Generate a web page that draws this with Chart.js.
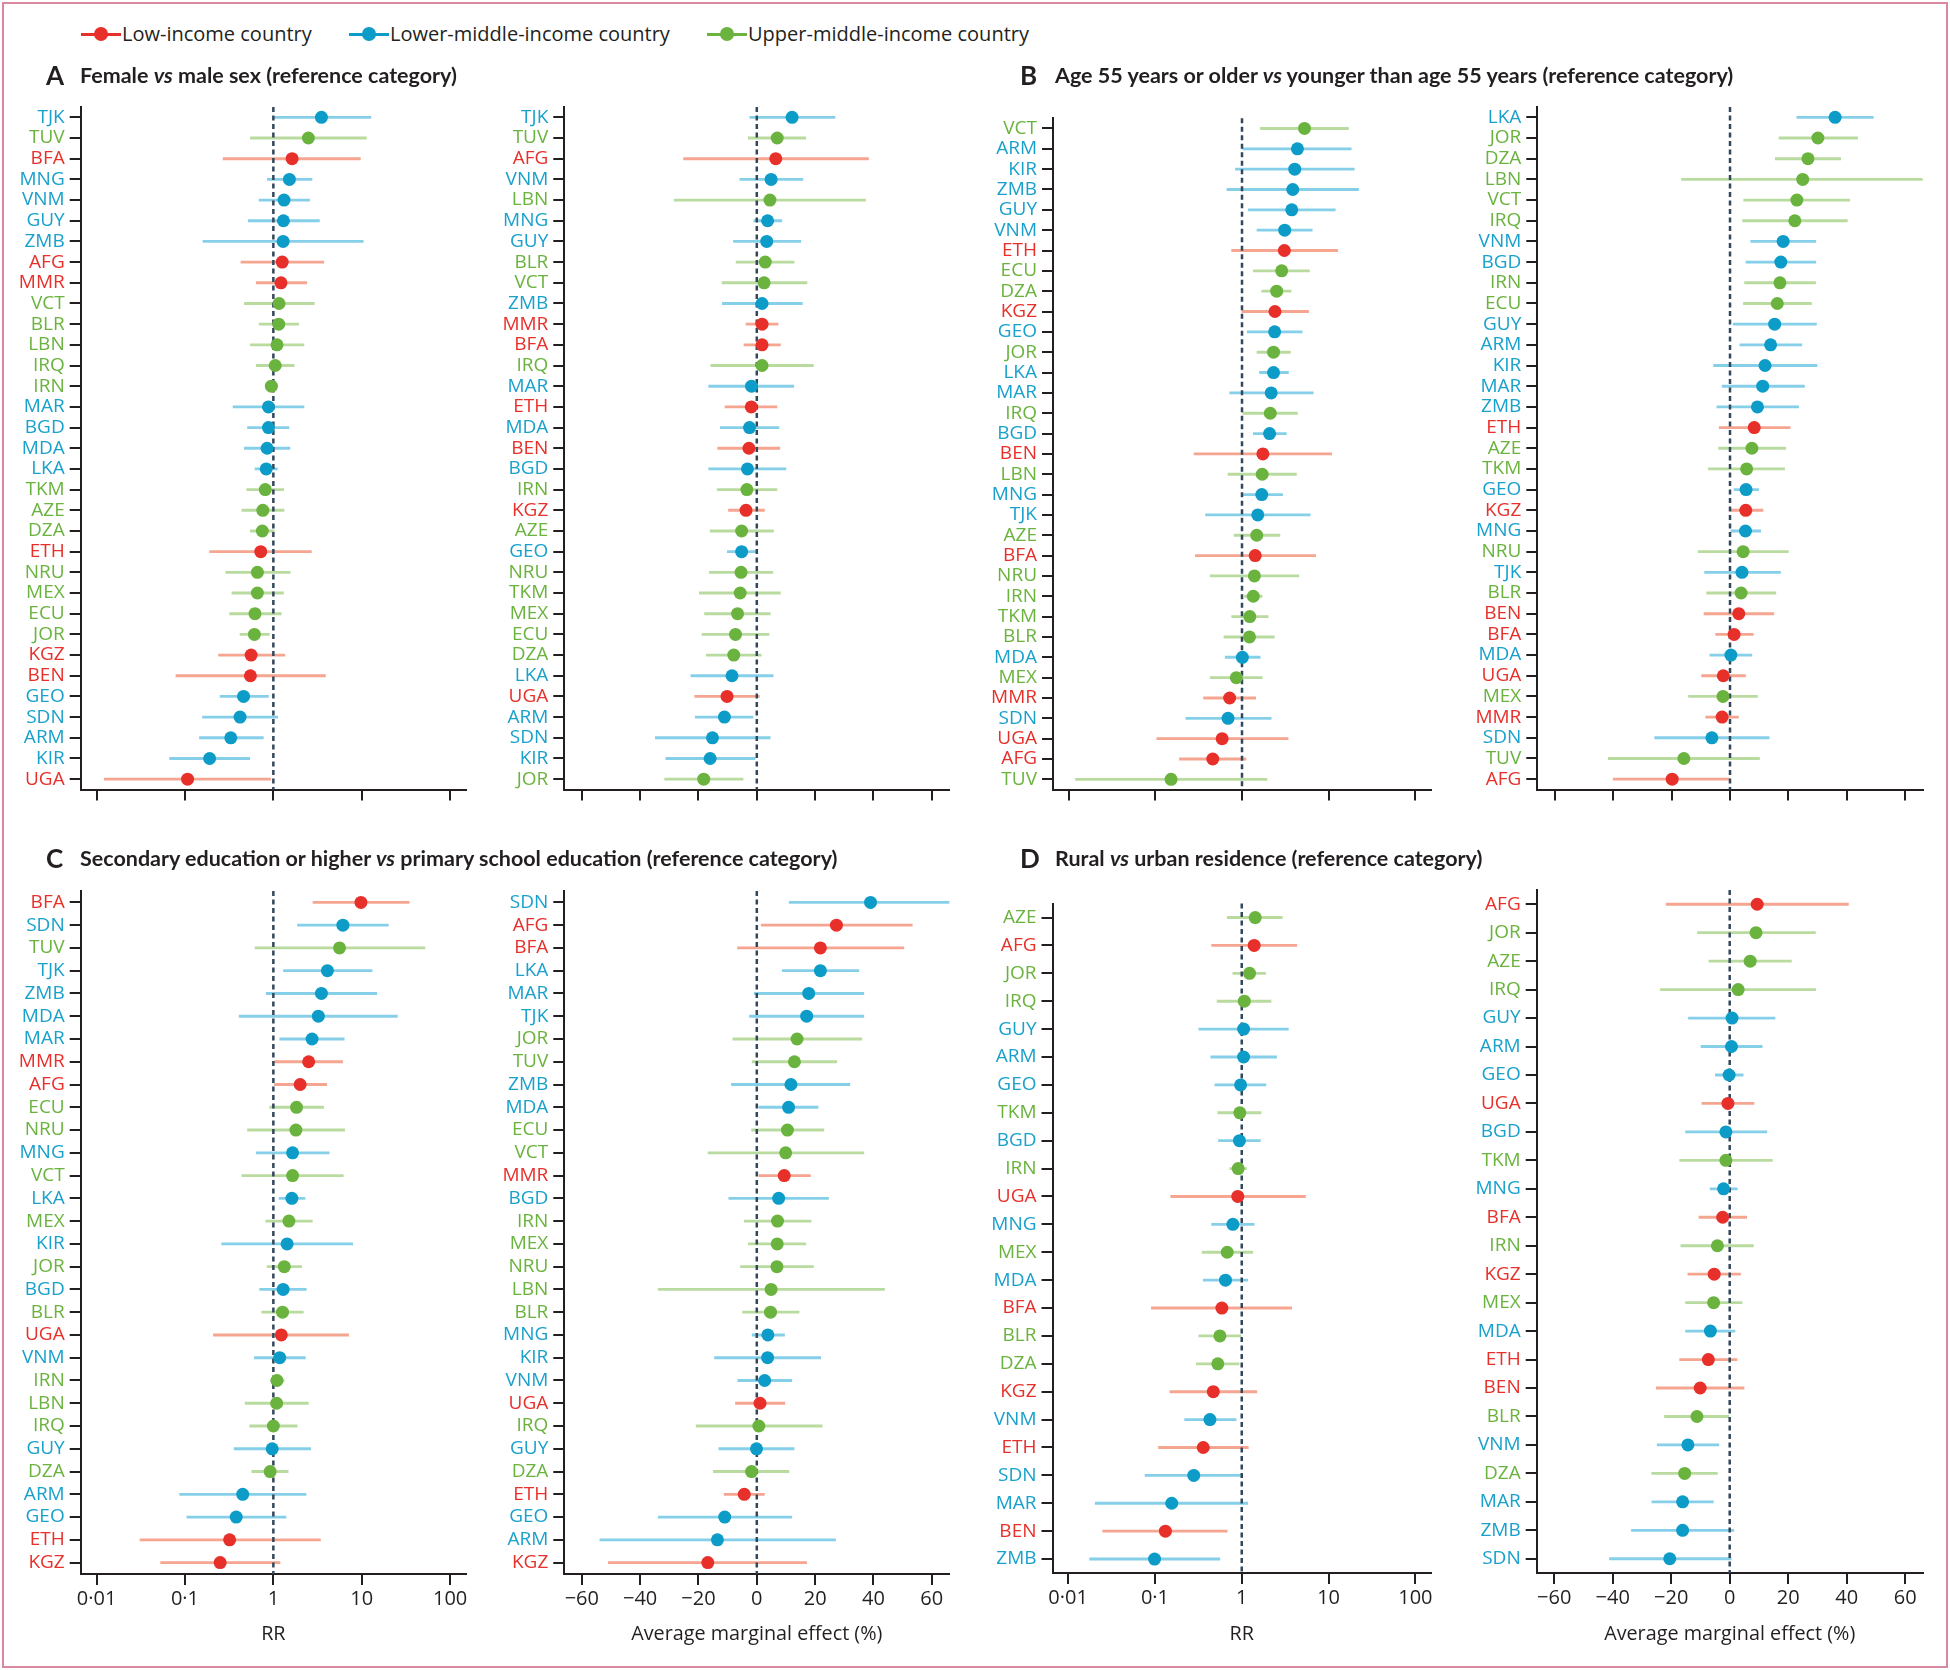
<!DOCTYPE html>
<html><head><meta charset="utf-8">
<script src="https://cdn.jsdelivr.net/npm/chart.js@4.4.0/dist/chart.umd.min.js"></script>
<style>
body{margin:0;width:1950px;height:1670px;background:#fff;position:relative;overflow:hidden;font-family:'Open Sans',sans-serif;color:#231f20}
.frame{position:absolute;left:2px;top:2px;width:1942px;height:1662px;border:2px solid #d8889f}
.title{position:absolute;font-family:Lato,sans-serif;font-weight:700;font-size:21.5px;line-height:26px;white-space:nowrap;color:#231f20}
.letter{position:absolute;font-family:Lato,sans-serif;font-weight:700;font-size:26px;line-height:30px;color:#231f20}
.legtxt{position:absolute;font-family:'Open Sans',sans-serif;font-size:20px;line-height:24px;white-space:nowrap;color:#231f20}
.legline{position:absolute;width:40px;height:3px}
.legdot{position:absolute;width:14px;height:14px;border-radius:50%}
</style>
</head><body>
<div class="frame"></div>
<script>
// ---------- income groups ----------
const lowIncome = ['AFG','BEN','BFA','ETH','KGZ','MMR','UGA'];
const lowerMiddleIncome = ['ARM','BGD','GEO','GUY','KIR','LKA','MAR','MDA','MNG','SDN','TJK','VNM','ZMB'];
const upperMiddleIncome = ['AZE','BLR','DZA','ECU','IRN','IRQ','JOR','LBN','MEX','NRU','TKM','TUV','VCT'];
const legendLabels = ['Low-income country','Lower-middle-income country','Upper-middle-income country'];

// ---------- tick labels ----------
const rrTickValues = [0.01, 0.1, 1, 10, 100];
const rrTickLabels = ['0·01', '0·1', '1', '10', '100'];
const ameTickValues = [-60, -40, -20, 0, 20, 40, 60];
const ameTickLabels = ['−60', '−40', '−20', '0', '20', '40', '60'];

// ---------- A: female vs male ----------
const femaleRRCountries = ['TJK','TUV','BFA','MNG','VNM','GUY','ZMB','AFG','MMR','VCT','BLR','LBN','IRQ','IRN','MAR','BGD','MDA','LKA','TKM','AZE','DZA','ETH','NRU','MEX','ECU','JOR','KGZ','BEN','GEO','SDN','ARM','KIR','UGA'];
const femaleRREst  = [3.5,2.49,1.63,1.52,1.32,1.30,1.29,1.26,1.22,1.16,1.15,1.10,1.05,0.95,0.88,0.88,0.85,0.83,0.81,0.76,0.75,0.72,0.66,0.66,0.62,0.61,0.56,0.55,0.46,0.42,0.33,0.19,0.107];
const femaleRRLow  = [1.0,0.55,0.27,0.855,0.69,0.52,0.16,0.43,0.64,0.47,0.69,0.55,0.64,0.82,0.35,0.51,0.47,0.62,0.50,0.44,0.55,0.19,0.29,0.34,0.32,0.42,0.24,0.079,0.25,0.158,0.146,0.067,0.0122];
const femaleRRHigh = [12.7,11.3,9.66,2.74,2.57,3.32,10.4,3.72,2.38,2.91,1.93,2.22,1.72,1.11,2.22,1.50,1.54,1.11,1.31,1.32,1.02,2.69,1.55,1.30,1.23,0.90,1.35,3.88,0.88,1.12,0.77,0.54,0.93];

const femaleAMECountries = ['TJK','TUV','AFG','VNM','LBN','MNG','GUY','BLR','VCT','ZMB','MMR','BFA','IRQ','MAR','ETH','MDA','BEN','BGD','IRN','KGZ','AZE','GEO','NRU','TKM','MEX','ECU','DZA','LKA','UGA','ARM','SDN','KIR','JOR'];
const femaleAMEEst  = [12.1,7.0,6.5,4.9,4.5,3.7,3.4,2.9,2.5,1.8,1.8,1.8,1.8,-1.8,-1.9,-2.5,-2.7,-3.2,-3.4,-3.7,-5.2,-5.2,-5.4,-5.7,-6.6,-7.3,-7.9,-8.5,-10.2,-11.1,-15.2,-16.0,-18.2];
const femaleAMELow  = [-2.4,-2.9,-25.1,-5.8,-28.3,-1.0,-8.0,-7.1,-11.9,-11.8,-3.7,-4.4,-15.8,-16.5,-10.9,-12.5,-13.4,-16.5,-13.6,-9.7,-16.0,-10.1,-16.3,-19.7,-17.9,-18.8,-17.3,-22.6,-21.3,-21.1,-34.8,-31.2,-31.6];
const femaleAMEHigh = [26.8,16.8,38.3,15.8,37.3,8.6,15.1,12.8,17.2,15.6,7.3,8.1,19.4,12.7,6.9,7.6,7.9,10.0,6.9,2.6,5.7,0.0,5.5,8.1,4.6,4.2,1.5,5.6,0.9,-1.3,4.6,-0.6,-4.7];

// ---------- B: age 55+ ----------
const ageRRCountries = ['VCT','ARM','KIR','ZMB','GUY','VNM','ETH','ECU','DZA','KGZ','GEO','JOR','LKA','MAR','IRQ','BGD','BEN','LBN','MNG','TJK','AZE','BFA','NRU','IRN','TKM','BLR','MDA','MEX','MMR','SDN','UGA','AFG','TUV'];
const ageRREst  = [5.26,4.36,4.06,3.85,3.75,3.11,3.08,2.87,2.51,2.40,2.38,2.31,2.31,2.17,2.12,2.08,1.74,1.71,1.69,1.52,1.48,1.42,1.39,1.35,1.23,1.22,1.01,0.86,0.72,0.69,0.59,0.46,0.152];
const ageRRLow  = [1.63,1.02,0.84,0.67,1.18,1.49,0.76,1.35,1.69,1.0,1.15,1.49,1.59,0.72,1.02,1.35,0.28,0.69,1.0,0.38,0.81,0.29,0.43,1.07,0.76,0.62,0.64,0.43,0.36,0.225,0.104,0.19,0.012];
const ageRRHigh = [16.9,18.2,19.7,22.1,11.9,6.45,12.7,6.0,3.68,5.85,4.94,3.61,3.43,6.63,4.36,3.25,10.8,4.24,2.94,6.12,2.74,7.06,4.52,1.71,2.0,2.36,1.62,1.71,1.44,2.17,3.40,1.11,1.94];

const ageAMECountries = ['LKA','JOR','DZA','LBN','VCT','IRQ','VNM','BGD','IRN','ECU','GUY','ARM','KIR','MAR','ZMB','ETH','AZE','TKM','GEO','KGZ','MNG','NRU','TJK','BLR','BEN','BFA','MDA','UGA','MEX','MMR','SDN','TUV','AFG'];
const ageAMEEst  = [36.0,30.1,26.7,24.9,22.9,22.2,18.2,17.4,17.1,16.2,15.3,13.9,12.0,11.2,9.4,8.3,7.5,5.7,5.5,5.4,5.3,4.5,4.1,3.8,3.0,1.4,0.3,-2.3,-2.4,-2.7,-6.2,-15.8,-19.8];
const ageAMELow  = [22.9,16.8,15.5,-16.6,4.7,4.3,7.1,5.5,5.0,4.6,1.1,3.4,-5.6,-2.7,-4.5,-3.7,-3.9,-7.4,1.4,0.0,0.0,-10.9,-8.7,-8.0,-8.9,-4.9,-6.9,-9.7,-14.2,-8.3,-25.8,-41.7,-40.0];
const ageAMEHigh = [49.1,43.7,37.9,66.6,41.0,40.2,29.4,29.4,29.3,27.9,29.6,24.6,29.8,25.5,23.5,20.6,19.1,18.7,9.8,11.3,10.5,20.0,17.3,15.7,15.0,8.0,7.5,5.3,9.4,2.9,13.4,10.1,0.0];

// ---------- C: secondary education ----------
const eduRRCountries = ['BFA','SDN','TUV','TJK','ZMB','MDA','MAR','MMR','AFG','ECU','NRU','MNG','VCT','LKA','MEX','KIR','JOR','BGD','BLR','UGA','VNM','IRN','LBN','IRQ','GUY','DZA','ARM','GEO','ETH','KGZ'];
const eduRREst  = [9.8,6.12,5.61,4.09,3.50,3.23,2.74,2.51,2.01,1.83,1.80,1.65,1.65,1.62,1.50,1.43,1.33,1.29,1.27,1.23,1.18,1.10,1.09,1.0,0.97,0.92,0.45,0.38,0.32,0.25];
const eduRRLow  = [2.81,1.88,0.62,1.30,0.83,0.41,1.18,1.03,1.03,0.91,0.51,0.64,0.44,1.16,0.82,0.26,0.85,0.70,0.74,0.21,0.61,0.93,0.48,0.54,0.36,0.57,0.087,0.105,0.031,0.053];
const eduRRHigh = [34.4,20.0,51.9,13.1,14.8,25.3,6.34,6.07,4.02,3.72,6.4,4.28,6.18,2.28,2.76,7.89,2.09,2.36,2.18,7.11,2.30,1.32,2.49,1.86,2.64,1.47,2.34,1.39,3.41,1.19];

const eduAMECountries = ['SDN','AFG','BFA','LKA','MAR','TJK','JOR','TUV','ZMB','MDA','ECU','VCT','MMR','BGD','IRN','MEX','NRU','LBN','BLR','MNG','KIR','VNM','UGA','IRQ','GUY','DZA','ETH','GEO','ARM','KGZ'];
const eduAMEEst  = [39.0,27.3,21.8,21.8,17.8,17.1,13.8,12.9,11.7,10.9,10.5,9.9,9.4,7.5,7.1,7.0,6.9,4.9,4.7,3.8,3.7,2.7,1.1,0.7,-0.1,-1.8,-4.3,-11.0,-13.5,-16.8];
const eduAMELow  = [11.1,1.5,-6.6,8.7,-0.9,-2.5,-8.2,-1.6,-8.7,0.7,-1.8,-16.7,0.7,-9.6,-4.3,-2.9,-5.6,-33.8,-4.9,-1.6,-14.5,-6.5,-7.3,-20.8,-13.0,-14.9,-11.2,-33.8,-53.8,-50.9];
const eduAMEHigh = [67.2,53.3,50.4,35.0,36.7,36.7,36.0,27.4,31.9,21.0,23.0,36.7,18.4,24.6,18.6,16.8,19.4,43.8,14.5,9.5,21.9,12.0,9.6,22.4,12.8,11.0,2.6,12.0,27.0,17.1];

// ---------- D: rural vs urban ----------
const ruralRRCountries = ['AZE','AFG','JOR','IRQ','GUY','ARM','GEO','TKM','BGD','IRN','UGA','MNG','MEX','MDA','BFA','BLR','DZA','KGZ','VNM','ETH','SDN','MAR','BEN','ZMB'];
const ruralRREst  = [1.43,1.39,1.23,1.07,1.05,1.05,0.97,0.95,0.94,0.91,0.90,0.79,0.68,0.65,0.59,0.56,0.53,0.47,0.43,0.36,0.28,0.156,0.132,0.099];
const ruralRRLow  = [0.68,0.45,0.79,0.52,0.32,0.44,0.49,0.53,0.54,0.73,0.152,0.45,0.35,0.36,0.091,0.32,0.30,0.149,0.22,0.11,0.077,0.0205,0.025,0.0177];
const ruralRRHigh = [2.93,4.30,1.88,2.17,3.44,2.52,1.90,1.67,1.64,1.13,5.42,1.39,1.34,1.17,3.76,0.98,0.93,1.49,0.86,1.19,1.0,1.17,0.68,0.56];

const ruralAMECountries = ['AFG','JOR','AZE','IRQ','GUY','ARM','GEO','UGA','BGD','TKM','MNG','BFA','IRN','KGZ','MEX','MDA','ETH','BEN','BLR','VNM','DZA','MAR','ZMB','SDN'];
const ruralAMEEst  = [9.4,9.0,7.0,2.9,0.8,0.6,-0.2,-0.6,-1.3,-1.3,-2.1,-2.4,-4.2,-5.3,-5.5,-6.6,-7.3,-10.1,-11.2,-14.3,-15.4,-16.1,-16.1,-20.5];
const ruralAMELow  = [-21.7,-11.0,-7.1,-23.7,-14.1,-9.8,-4.9,-9.5,-15.1,-17.1,-6.7,-10.5,-16.7,-14.3,-15.1,-15.1,-17.1,-25.1,-22.3,-24.8,-26.7,-26.6,-33.6,-41.1];
const ruralAMEHigh = [40.6,29.3,21.1,29.4,15.5,11.1,4.6,8.3,12.7,14.6,2.6,5.8,8.1,3.7,4.2,1.8,2.5,4.9,0.0,-3.7,-4.2,-5.6,1.4,0.5];

// ---------- styling ----------
const PAL = {
  low:   {dot:'#e8302b', ci:'#f5a590', text:'#e8302b'},
  lower: {dot:'#0c9cc7', ci:'#86cfe9', text:'#19a1cc'},
  upper: {dot:'#6ab33e', ci:'#badb9f', text:'#6ab33e'}
};
function groupOf(c){
  if (lowIncome.includes(c)) return 'low';
  if (lowerMiddleIncome.includes(c)) return 'lower';
  return 'upper';
}
Chart.defaults.font.family = "'Open Sans', sans-serif";
Chart.defaults.color = '#231f20';

const refLinePlugin = {
  id: 'refLine',
  afterDatasetDraw(chart, args, opts) {
    if (args.index !== 1) return;
    const ctx = chart.ctx;
    const x = chart.scales.x.getPixelForValue(opts.value);
    const {top, bottom} = chart.chartArea;
    ctx.save();
    ctx.strokeStyle = '#33475a';
    ctx.lineWidth = 2.5;
    ctx.setLineDash([5, 3.5]);
    ctx.beginPath();
    ctx.moveTo(x, top);
    ctx.lineTo(x, bottom);
    ctx.stroke();
    ctx.restore();
  }
};

function makePanel(p) {
  const cv = document.createElement('canvas');
  cv.width = p.cw; cv.height = p.ch;
  cv.style.cssText = `position:absolute;left:${p.cx}px;top:${p.cy}px;width:${p.cw}px;height:${p.ch}px`;
  document.body.appendChild(cv);
  const isLog = p.kind === 'rr';
  const tickVals = isLog ? rrTickValues : ameTickValues;
  const tickLbls = isLog ? rrTickLabels : ameTickLabels;
  new Chart(cv, {
    type: 'bar',
    data: {
      labels: p.countries,
      datasets: [
        {type:'line', indexAxis:'y', data:p.est, showLine:false, pointRadius:6.5, pointHoverRadius:6.5,
         pointBorderWidth:0, pointBackgroundColor:p.countries.map(c => PAL[groupOf(c)].dot), order:1},
        {type:'bar', indexAxis:'y', data:p.lo.map((l, i) => [l, p.hi[i]]),
         backgroundColor:p.countries.map(c => PAL[groupOf(c)].ci), barThickness:2.2, borderWidth:0, order:2}
      ]
    },
    options: {
      indexAxis: 'y', responsive: false, animation: false, events: [],
      layout: {padding: {left: 0, right: p.cx + p.cw - p.right, top: p.top - p.cy, bottom: 0}},
      plugins: {legend: {display: false}, tooltip: {enabled: false}, refLine: {value: isLog ? 1 : 0}},
      scales: {
        x: {
          type: isLog ? 'logarithmic' : 'linear',
          min: isLog ? Math.pow(10, -2.18) : -66,
          max: isLog ? Math.pow(10, 2.18) : 66,
          afterFit: s => { s.height = p.cy + p.ch - p.bottom; },
          afterBuildTicks: s => { s.ticks = tickVals.map(v => ({value: v})); },
          grid: {drawOnChartArea: false, drawTicks: true, tickLength: 11, color: '#231f20', lineWidth: 2},
          border: {display: true, color: '#231f20', width: 2},
          ticks: {display: p.showTicks, autoSkip: false, maxRotation: 0, padding: 2, color: '#231f20',
                  font: {size: 20}, callback: (v, i) => tickLbls[i]},
          title: {display: p.showTicks, text: isLog ? 'RR' : 'Average marginal effect (%)', color: '#231f20',
                  font: {size: 19.8}, padding: {top: 0, bottom: 14}}
        },
        y: {
          type: 'category', offset: true, position: 'left',
          afterFit: s => { s.width = p.left - p.cx; },
          grid: {display: true, drawOnChartArea: false, drawTicks: true, tickLength: 11, color: '#231f20', lineWidth: 2, offset: false},
          border: {display: true, color: '#231f20', width: 2},
          ticks: {autoSkip: false, padding: 5, font: {size: 19},
                  color: ctx => PAL[groupOf(p.countries[ctx.index])].text}
        }
      }
    },
    plugins: [refLinePlugin]
  });
}

const TOPY = 84, TOPH = 736, BOTY = 866, BOTH = 794;
makePanel({kind:'rr', cx:0, cy:TOPY, cw:480, ch:TOPH, left:80.7, right:466, top:107, bottom:789.5, showTicks:false,
  countries:femaleRRCountries, est:femaleRREst, lo:femaleRRLow, hi:femaleRRHigh});
makePanel({kind:'ame', cx:480, cy:TOPY, cw:490, ch:TOPH, left:564.3, right:949.3, top:107, bottom:789.5, showTicks:false,
  countries:femaleAMECountries, est:femaleAMEEst, lo:femaleAMELow, hi:femaleAMEHigh});
makePanel({kind:'rr', cx:970, cy:TOPY, cw:480, ch:TOPH, left:1053, right:1431, top:118.3, bottom:789.5, showTicks:false,
  countries:ageRRCountries, est:ageRREst, lo:ageRRLow, hi:ageRRHigh});
makePanel({kind:'ame', cx:1450, cy:TOPY, cw:494, ch:TOPH, left:1537.3, right:1922.7, top:107, bottom:789.5, showTicks:false,
  countries:ageAMECountries, est:ageAMEEst, lo:ageAMELow, hi:ageAMEHigh});
makePanel({kind:'rr', cx:0, cy:BOTY, cw:480, ch:BOTH, left:80.7, right:466, top:891, bottom:1574, showTicks:true,
  countries:eduRRCountries, est:eduRREst, lo:eduRRLow, hi:eduRRHigh});
makePanel({kind:'ame', cx:480, cy:BOTY, cw:490, ch:BOTH, left:564.3, right:949.3, top:891, bottom:1574, showTicks:true,
  countries:eduAMECountries, est:eduAMEEst, lo:eduAMELow, hi:eduAMEHigh});
makePanel({kind:'rr', cx:970, cy:BOTY, cw:480, ch:BOTH, left:1052.5, right:1431, top:903.6, bottom:1573, showTicks:true,
  countries:ruralRRCountries, est:ruralRREst, lo:ruralRRLow, hi:ruralRRHigh});
makePanel({kind:'ame', cx:1450, cy:BOTY, cw:494, ch:BOTH, left:1536.7, right:1922.7, top:890, bottom:1573, showTicks:true,
  countries:ruralAMECountries, est:ruralAMEEst, lo:ruralAMELow, hi:ruralAMEHigh});

// ---------- legend ----------
const legendItems = [
  {g:'low', cxm:101, tx:122},
  {g:'lower', cxm:369, tx:390},
  {g:'upper', cxm:727, tx:748}
];
legendItems.forEach((it, i) => {
  const ln = document.createElement('div');
  ln.className = 'legline';
  ln.style.cssText = `left:${it.cxm - 20}px;top:${34 - 1.5}px;background:${PAL[it.g].dot}`;
  document.body.appendChild(ln);
  const dt = document.createElement('div');
  dt.className = 'legdot';
  dt.style.cssText = `left:${it.cxm - 7}px;top:${34 - 7}px;background:${PAL[it.g].dot}`;
  document.body.appendChild(dt);
  const tx = document.createElement('div');
  tx.className = 'legtxt';
  tx.style.cssText = `left:${it.tx}px;top:${34 - 12}px`;
  tx.textContent = legendLabels[i];
  document.body.appendChild(tx);
});

// ---------- titles ----------
const titles = [
  {l:'A', x:46, tx:80, y:74.5, html:'Female <i>vs</i> male sex (reference category)'},
  {l:'B', x:1020, tx:1055, y:74.5, html:'Age 55 years or older <i>vs</i> younger than age 55 years (reference category)'},
  {l:'C', x:46, tx:80, y:858, html:'Secondary education or higher <i>vs</i> primary school education (reference category)'},
  {l:'D', x:1020, tx:1055, y:858, html:'Rural <i>vs</i> urban residence (reference category)'}
];
titles.forEach(t => {
  const a = document.createElement('div');
  a.className = 'letter';
  a.style.cssText = `left:${t.x}px;top:${t.y - 15}px`;
  a.textContent = t.l;
  document.body.appendChild(a);
  const b = document.createElement('div');
  b.className = 'title';
  b.style.cssText = `left:${t.tx}px;top:${t.y - 13}px`;
  b.innerHTML = t.html;
  document.body.appendChild(b);
});
</script>
</body></html>
